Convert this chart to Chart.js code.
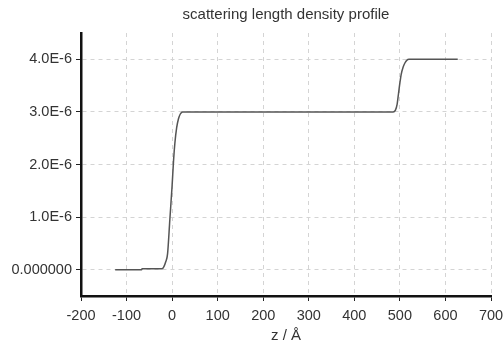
<!DOCTYPE html>
<html>
<head>
<meta charset="utf-8">
<title>scattering length density profile</title>
<script src="https://cdn.jsdelivr.net/npm/chart.js@4.4.0/dist/chart.umd.min.js"></script>
<style>
  body { margin: 0; background: #fff; }
  canvas { display: block; }
</style>
</head>
<body>
<canvas id="sld-chart" width="504" height="347"></canvas>
<script>
// depth z (Angstrom) and SLD (SLD in units of 1E-6)
const zValues = [-125, -67, -66, -22, -18, -14, -10, -5, 0, 3, 6, 10, 14, 18, 23,
                 100, 200, 300, 400, 485, 490, 494, 497, 500, 503, 507, 511, 515, 520, 600, 627];
const sldE6 = [0, 0, 0.02, 0.02, 0.06, 0.15, 0.3, 0.95, 1.6, 2.05, 2.4, 2.7, 2.87, 2.96, 3.0,
               3.0, 3.0, 3.0, 3.0, 3.0, 3.03, 3.15, 3.35, 3.55, 3.72, 3.85, 3.93, 3.98, 4.0, 4.0, 4.0];
const yTicks = [0, 1e-6, 2e-6, 3e-6, 4e-6];
const xTickLabels = ['-200', '-100', '0', '100', '200', '300', '400', '500', '600', '700'];
const chartTitle = 'scattering length density profile';

const points = zValues.map((z, i) => ({ x: z, y: sldE6[i] * 1e-6 }));

const textColor = '#333';
const fontFamily = '"Liberation Sans", Arial, sans-serif';

// title centred over the plot area, not the whole canvas
const plotTitle = {
    id: 'plotTitle',
    afterDraw(chart) {
        const c = chart.ctx;
        const area = chart.chartArea;
        c.save();
        c.fillStyle = textColor;
        c.font = '15px ' + fontFamily;
        c.textAlign = 'center';
        c.textBaseline = 'middle';
        c.fillText(chartTitle, (area.left + area.right) / 2, 15);
        c.restore();
    }
};

const ctx = document.getElementById('sld-chart').getContext('2d');
new Chart(ctx, {
    type: 'line',
    data: {
        datasets: [{
            label: 'SLD',
            data: points,
            borderColor: '#555',
            borderWidth: 1.5,
            pointRadius: 0,
            fill: false,
            cubicInterpolationMode: 'monotone'
        }]
    },
    options: {
        responsive: false,
        animation: false,
        layout: { padding: { left: 0, right: 13, top: 33, bottom: 0 } },
        plugins: {
            legend: { display: false },
            tooltip: { enabled: false },
            title: { display: false }
        },
        scales: {
            x: {
                type: 'linear',
                min: -200,
                max: 700,
                afterFit: (scale) => {
                    scale.height = 51;
                    scale.paddingLeft = 0;
                    scale.paddingRight = 0;
                },
                afterBuildTicks: (scale) => {
                    scale.ticks = xTickLabels.map(t => ({ value: Number(t) }));
                },
                ticks: {
                    color: textColor,
                    padding: 6,
                    font: { family: fontFamily, size: 14.5 },
                    callback: (v) => String(v)
                },
                grid: { color: '#d4d4d4', lineWidth: 1, tickColor: '#222', tickLength: 5, tickBorderDash: [] },
                border: { display: true, color: '#111', width: 2.5, dash: [4, 4] },
                title: {
                    display: true,
                    text: 'z / Å',
                    color: textColor,
                    font: { family: fontFamily, size: 15 },
                    padding: { top: 2, bottom: 2 }
                }
            },
            y: {
                type: 'linear',
                min: -0.5e-6,
                max: 4.5e-6,
                afterFit: (scale) => {
                    scale.width = 81;
                    scale.paddingTop = 0;
                    scale.paddingBottom = 0;
                },
                afterBuildTicks: (scale) => {
                    scale.ticks = yTicks.map(v => ({ value: v }));
                },
                ticks: {
                    color: textColor,
                    padding: 4,
                    font: { family: fontFamily, size: 14.5 },
                    callback: (v) => v === 0 ? '0.000000' : (v * 1e6).toFixed(1) + 'E-6'
                },
                grid: { color: '#d4d4d4', lineWidth: 1, tickColor: '#222', tickLength: 5, tickBorderDash: [] },
                border: { display: true, color: '#111', width: 2.5, dash: [4, 4] }
            }
        }
    },
    plugins: [plotTitle]
});
</script>
</body>
</html>
